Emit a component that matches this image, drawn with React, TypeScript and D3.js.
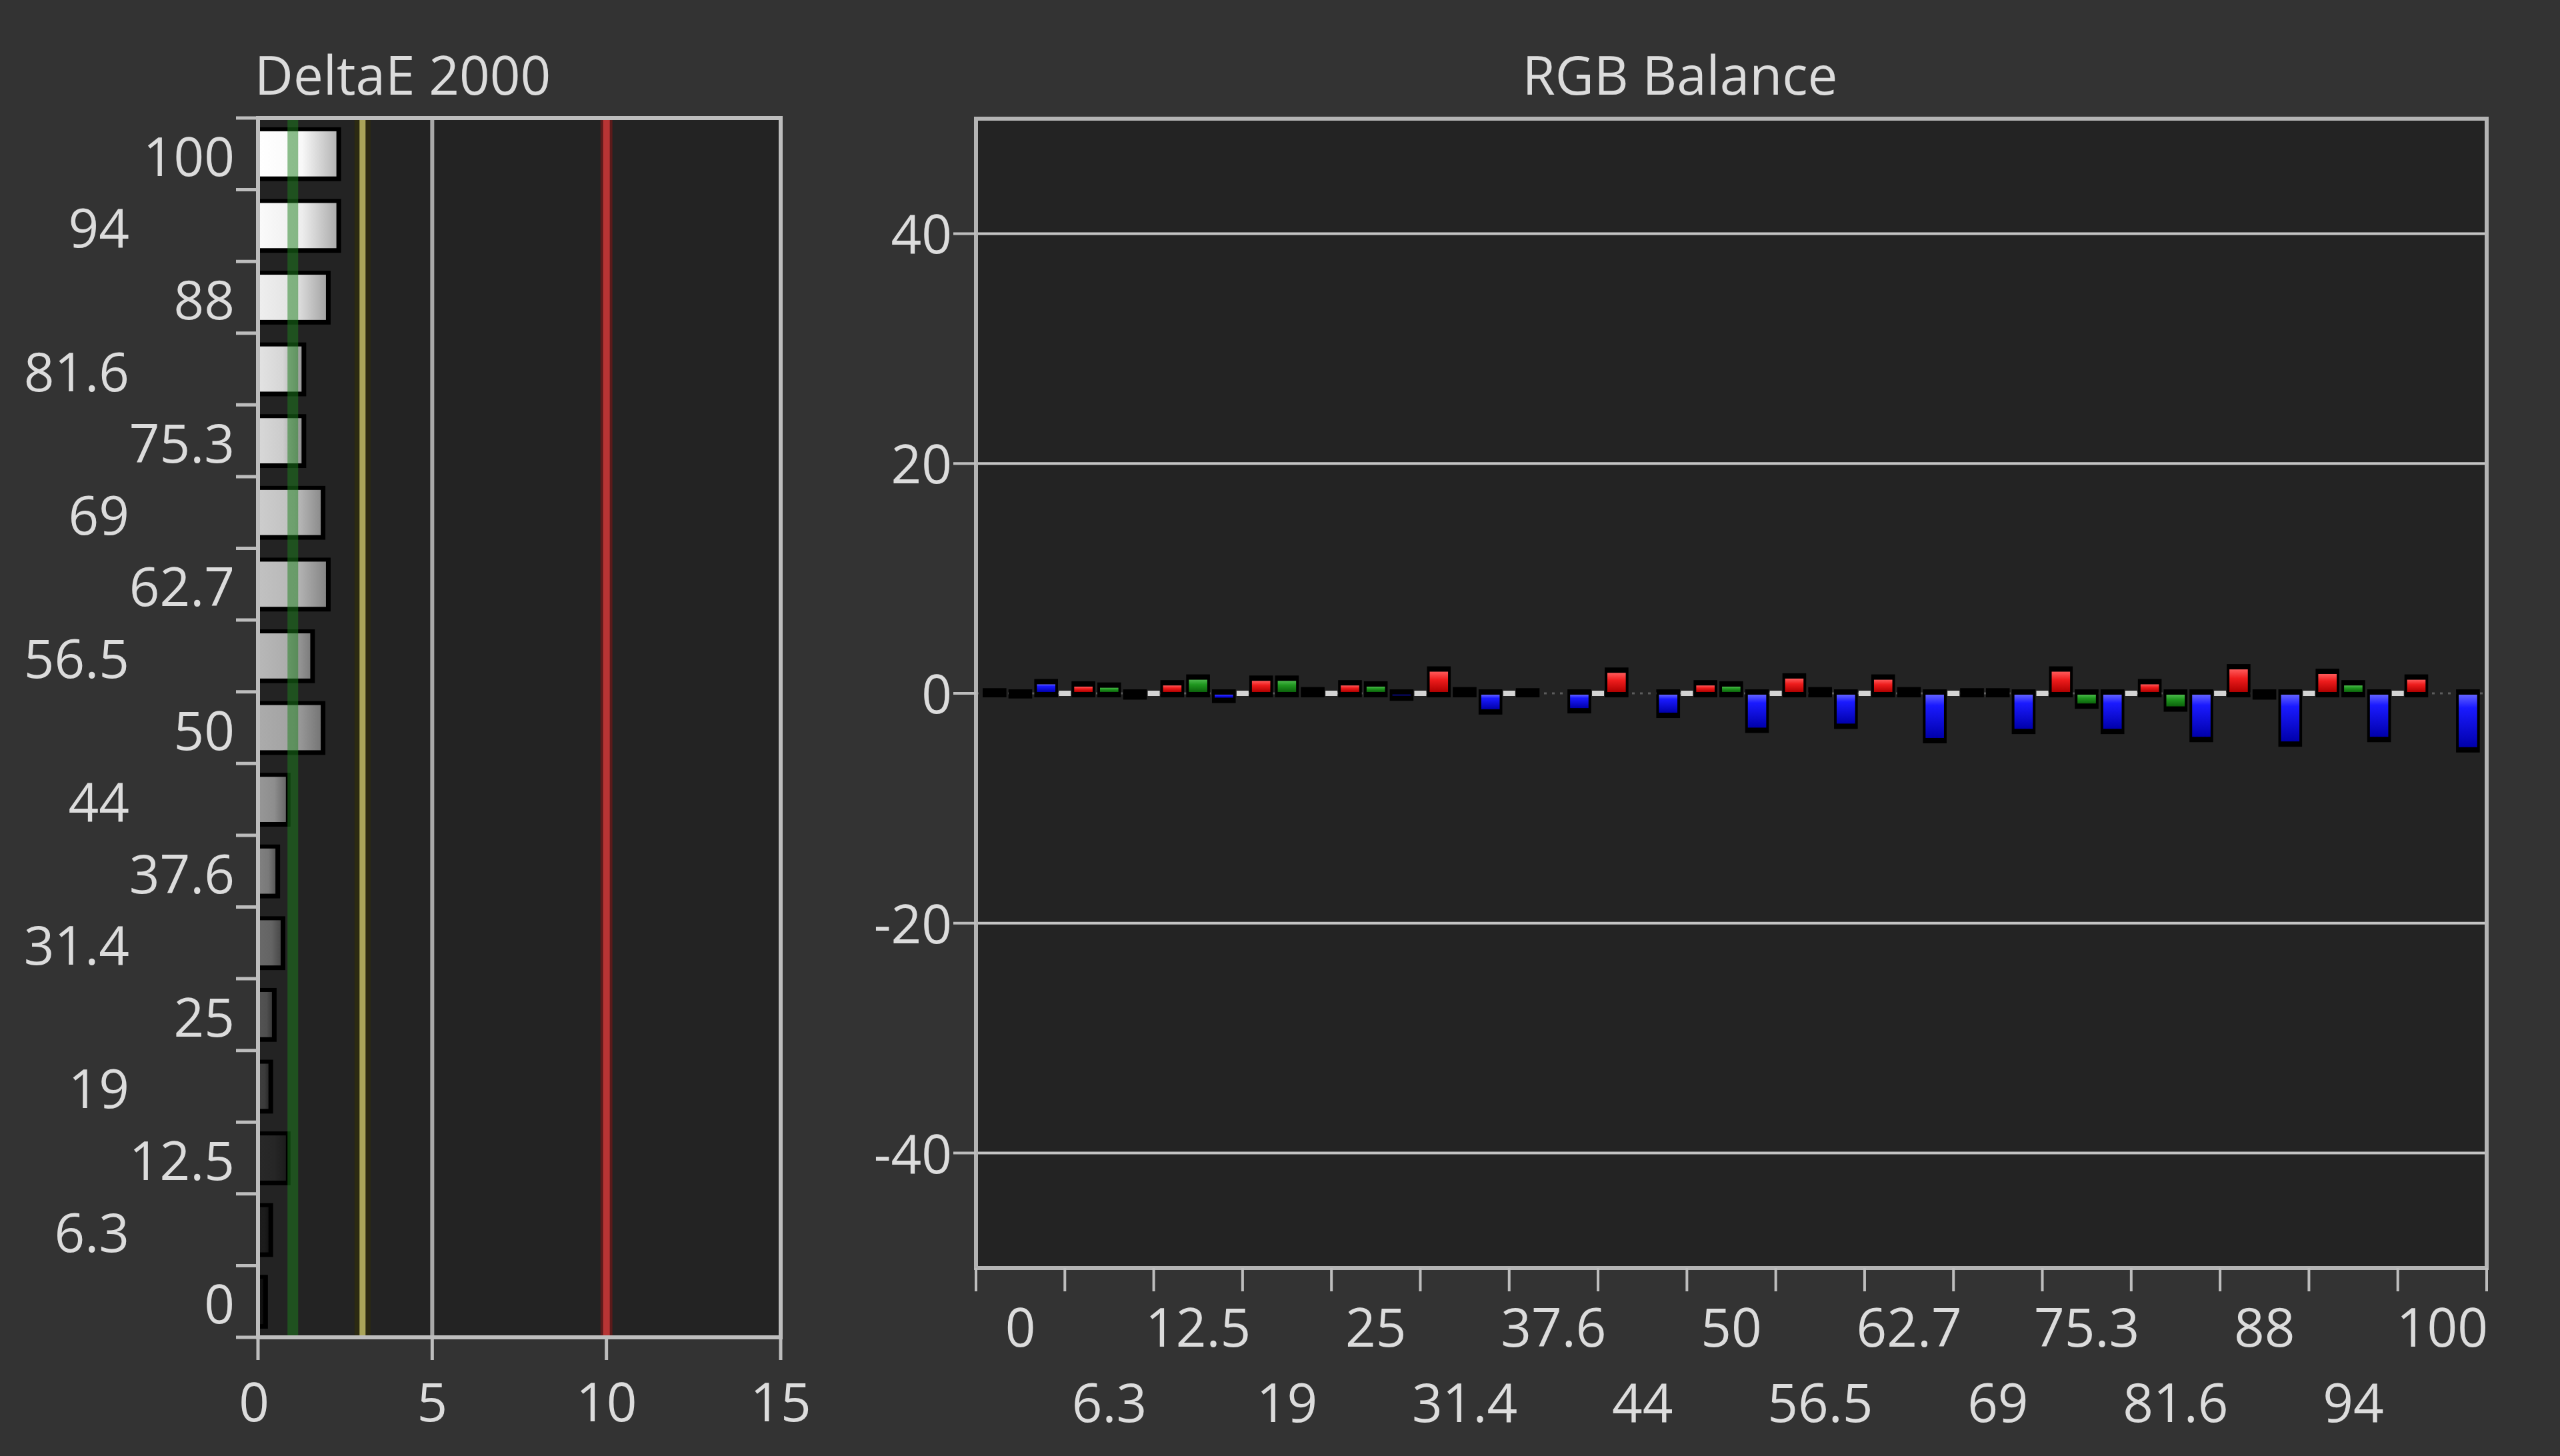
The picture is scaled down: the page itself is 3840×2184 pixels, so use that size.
import React, { useEffect } from "react";
import * as d3 from "d3";

const W = 3840;
const H = 2184;

// Categories (stimulus levels, %)
const levels = ["0", "6.3", "12.5", "19", "25", "31.4", "37.6", "44", "50", "56.5", "62.7", "69", "75.3", "81.6", "88", "94", "100"];

// DeltaE 2000 per level (same order as levels)
const deltaE = [0.15, 0.3, 0.8, 0.3, 0.4, 0.65, 0.5, 0.8, 1.8, 1.5, 1.95, 1.8, 1.25, 1.25, 1.95, 2.25, 2.25];
const deltaETicks = [0, 5, 10, 15];
const deltaEGrid = [5];
const deltaEGreen = 1;
const deltaEYellow = 3;
const deltaERed = 10;

// RGB balance per level (same order as levels)
const rgbR = [0.1, 0.7, 0.8, 1.2, 0.8, 2.0, 0.1, 1.9, 0.8, 1.4, 1.3, 0.1, 2.0, 0.9, 2.2, 1.8, 1.3];
const rgbG = [-0.1, 0.6, 1.3, 1.2, 0.7, 0.2, 0, 0, 0.7, 0.2, 0.2, 0.1, -1.0, -1.25, -0.2, 0.8, 0];
const rgbB = [0.9, -0.2, -0.5, 0.2, -0.3, -1.5, -1.4, -1.8, -3.1, -2.75, -4.0, -3.2, -3.2, -3.9, -4.3, -3.9, -4.8];
const rgbTicks = [-40, -20, 0, 20, 40];
const channels = ["R", "G", "B"];

const FONT = "'Open Sans', 'Noto Sans', sans-serif";
const TEXT = "#dcdcdc";
const FRAME = "#bdbdbd";
const PAGE_BG = "#333333";
const PLOT_BG = "#232323";

export default function App() {
  useEffect(() => {
    document.body.style.margin = "0";
    document.body.style.background = PAGE_BG;
  }, []);

  // ---------- Left chart: DeltaE 2000 ----------
  const L = { x0: 387, x1: 1171, y0: 177, y1: 2006 };
  const topDown = [...levels].reverse();
  const yL = d3.scaleBand<string>().domain(topDown).range([L.y0, L.y1]).paddingInner(0.37).paddingOuter(0.185);
  const xL = d3.scaleLinear().domain([0, 15]).range([L.x0, L.x1]);
  const stepL = yL.step();
  const boundariesL = topDown.map((l) => (yL(l) as number) - (stepL * 0.37) / 2).concat([L.y1]);
  const grey = d3
    .scaleLinear<string>()
    .domain([0, 12.5, 50, 81.6, 100])
    .range(["#101010", "#262626", "#a2a2a2", "#d6d6d6", "#f8f8f8"]);

  // ---------- Right chart: RGB Balance ----------
  const R = { x0: 1464, x1: 3730, y0: 178, y1: 1902 };
  const xR = d3.scaleBand<string>().domain(levels).range([R.x0, R.x1]);
  const xC = d3.scaleBand<string>().domain(channels).range([10, 123]).paddingInner(0.08);
  const yR = d3.scaleLinear().domain([-50, 50]).range([R.y1, R.y0]);
  const boundariesR = levels.map((l) => xR(l) as number).concat([R.x1]);
  const zeroY = yR(0);
  const rgbSeries: Record<string, number[]> = { R: rgbR, G: rgbG, B: rgbB };

  return (
    <svg width={W} height={H} viewBox={`0 0 ${W} ${H}`} style={{ display: "block" }} fontFamily={FONT}>
      <defs>
        {levels.map((l, i) => {
          const c = d3.color(grey(+l))!;
          return (
            <linearGradient id={`gb${i}`} key={l} x1="0" y1="0" x2="1" y2="0">
              <stop offset="0%" stopColor={c.brighter(0.15).formatHex()} />
              <stop offset="55%" stopColor={c.formatHex()} />
              <stop offset="100%" stopColor={c.darker(0.9).formatHex()} />
            </linearGradient>
          );
        })}
        <linearGradient id="gR" x1="0" y1="0" x2="0" y2="1">
          <stop offset="0%" stopColor="#ff5a5a" />
          <stop offset="40%" stopColor="#ee1c1c" />
          <stop offset="100%" stopColor="#b00000" />
        </linearGradient>
        <linearGradient id="gG" x1="0" y1="0" x2="0" y2="1">
          <stop offset="0%" stopColor="#4cb84c" />
          <stop offset="40%" stopColor="#1f961f" />
          <stop offset="100%" stopColor="#0b620b" />
        </linearGradient>
        <linearGradient id="gB" x1="0" y1="0" x2="0" y2="1">
          <stop offset="0%" stopColor="#6262ff" />
          <stop offset="25%" stopColor="#1a1aff" />
          <stop offset="100%" stopColor="#0000aa" />
        </linearGradient>
      </defs>

      <rect x={0} y={0} width={W} height={H} fill={PAGE_BG} />

      {/* ===== Left chart ===== */}
      <text x={604} y={142} fontSize={80} fill={TEXT} textAnchor="middle">
        DeltaE 2000
      </text>
      <rect x={L.x0} y={L.y0} width={L.x1 - L.x0} height={L.y1 - L.y0} fill={PLOT_BG} />

      {/* bars */}
      {levels.map((l, i) => {
        const y = yL(l) as number;
        const h = yL.bandwidth();
        const xe = xL(deltaE[i]);
        return (
          <g key={`b${l}`}>
            <rect x={L.x0} y={y - 6} width={xe - L.x0 + 7} height={h + 13} fill="#000" />
            <rect x={L.x0 + 3} y={y} width={Math.max(0, xe - L.x0 - 3)} height={h} fill={`url(#gb${i})`} />
          </g>
        );
      })}

      {/* reference lines */}
      {deltaEGrid.map((t) => (
        <line key={`g${t}`} x1={xL(t)} x2={xL(t)} y1={L.y0} y2={L.y1} stroke="#a8a8a8" strokeWidth={6} />
      ))}
      <line x1={xL(deltaEGreen)} x2={xL(deltaEGreen)} y1={L.y0} y2={L.y1} stroke="rgb(28,128,28)" strokeOpacity={0.5} strokeWidth={16} />
      <line x1={xL(deltaEYellow)} x2={xL(deltaEYellow)} y1={L.y0} y2={L.y1} stroke="#2c2a12" strokeWidth={24} />
      <line x1={xL(deltaEYellow)} x2={xL(deltaEYellow)} y1={L.y0} y2={L.y1} stroke="#aaa558" strokeWidth={9} />
      <line x1={xL(deltaERed)} x2={xL(deltaERed)} y1={L.y0} y2={L.y1} stroke="#5a1a1a" strokeWidth={18} />
      <line x1={xL(deltaERed)} x2={xL(deltaERed)} y1={L.y0} y2={L.y1} stroke="#b83434" strokeWidth={10} />

      {/* frame */}
      <rect x={L.x0} y={L.y0} width={L.x1 - L.x0} height={L.y1 - L.y0} fill="none" stroke={FRAME} strokeWidth={6} />

      {/* y ticks & labels */}
      {boundariesL.map((b, k) => (
        <line key={`ly${k}`} x1={354} x2={L.x0} y1={b} y2={b} stroke={FRAME} strokeWidth={5} />
      ))}
      {topDown.map((l, i) => (
        <text
          key={`lyl${l}`}
          x={i % 2 === 0 ? 352 : 194}
          y={(yL(l) as number) + yL.bandwidth() / 2 + 33}
          fontSize={80}
          fill={TEXT}
          textAnchor="end"
        >
          {l}
        </text>
      ))}

      {/* x ticks & labels */}
      {deltaETicks.map((t) => (
        <g key={`lx${t}`}>
          <line x1={xL(t)} x2={xL(t)} y1={L.y1} y2={2040} stroke={FRAME} strokeWidth={5} />
          <text x={xL(t) - (t === 0 ? 6 : 0)} y={2132} fontSize={80} fill={TEXT} textAnchor="middle">
            {t}
          </text>
        </g>
      ))}

      {/* ===== Right chart ===== */}
      <text x={2520} y={142} fontSize={80} fill={TEXT} textAnchor="middle">
        RGB Balance
      </text>
      <rect x={R.x0} y={R.y0} width={R.x1 - R.x0} height={R.y1 - R.y0} fill={PLOT_BG} />

      {/* grid */}
      {rgbTicks
        .filter((t) => t !== 0)
        .map((t) => (
          <line key={`rg${t}`} x1={R.x0} x2={R.x1} y1={yR(t)} y2={yR(t)} stroke="#c4c4c4" strokeWidth={4} />
        ))}

      {/* zero line */}
      <line x1={R.x0} x2={R.x1} y1={zeroY} y2={zeroY} stroke="#5c5c5c" strokeWidth={3} strokeDasharray="4 8" />
      {boundariesR.slice(1, -1).map((b, k) => (
        <rect key={`zd${k}`} x={b - 9} y={zeroY - 4} width={18} height={8} fill="#d4d4d4" />
      ))}

      {/* bars */}
      {levels.map((l, i) => (
        <g key={`rb${l}`} transform={`translate(${xR(l)},0)`}>
          {channels.map((c) => {
            const v = rgbSeries[c][i];
            if (v === 0) return null;
            const x = xC(c) as number;
            const w = xC.bandwidth();
            const yt = yR(Math.max(v, 0));
            const yb = yR(Math.min(v, 0));
            const fh = yb - yt - 4;
            return (
              <g key={c}>
                <rect x={x} y={yt - 6} width={w} height={yb - yt + 12} fill="#000" />
                {fh > 1 && <rect x={x + 4} y={yt + 2} width={w - 8} height={fh} fill={`url(#g${c})`} />}
              </g>
            );
          })}
        </g>
      ))}

      {/* frame */}
      <rect x={R.x0} y={R.y0} width={R.x1 - R.x0} height={R.y1 - R.y0} fill="none" stroke="#b4b4b4" strokeWidth={6} />

      {/* y ticks & labels */}
      {rgbTicks.map((t) => (
        <g key={`ry${t}`}>
          <line x1={1430} x2={R.x0} y1={yR(t)} y2={yR(t)} stroke={FRAME} strokeWidth={4} />
          <text x={1428} y={yR(t) + 30} fontSize={80} fill={TEXT} textAnchor="end">
            {t}
          </text>
        </g>
      ))}

      {/* x ticks & labels */}
      {boundariesR.map((b, k) => (
        <line key={`rx${k}`} x1={b} x2={b} y1={R.y1} y2={1937} stroke={FRAME} strokeWidth={4} />
      ))}
      {levels.map((l, i) => (
        <text
          key={`rxl${l}`}
          x={(xR(l) as number) + xR.bandwidth() / 2}
          y={i % 2 === 0 ? 2020 : 2133}
          fontSize={80}
          fill={TEXT}
          textAnchor="middle"
        >
          {l}
        </text>
      ))}
    </svg>
  );
}
